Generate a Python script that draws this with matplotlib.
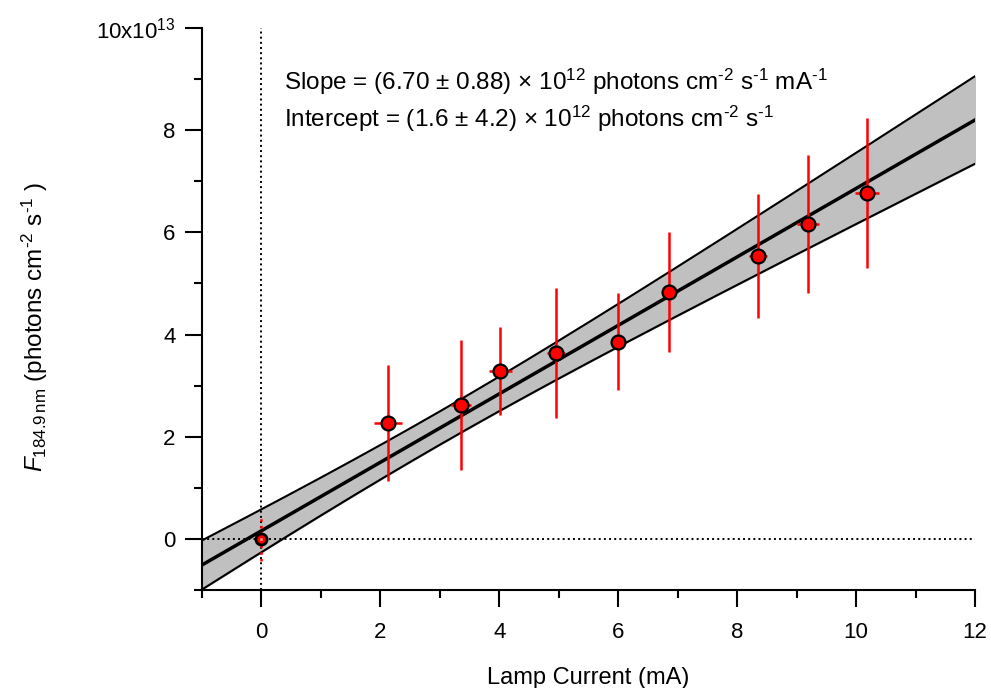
import numpy as np
import matplotlib.pyplot as plt
from matplotlib.ticker import MultipleLocator, FuncFormatter

plt.rcParams['font.family'] = 'Liberation Sans'
plt.rcParams['mathtext.fontset'] = 'custom'
plt.rcParams['mathtext.rm'] = 'Liberation Sans'
plt.rcParams['mathtext.it'] = 'Liberation Sans:italic'

# lamp current (mA) and flux (x 10^13 photons cm-2 s-1)
current = [2.13, 3.35, 4.02, 4.96, 6.00, 6.86, 8.35, 9.19, 10.18]
current_err = [0.24, 0.17, 0.20, 0.15, 0.10, 0.08, 0.15, 0.19, 0.20]
flux = [2.27, 2.62, 3.29, 3.64, 3.86, 4.83, 5.54, 6.16, 6.77]
flux_err = [1.14, 1.28, 0.86, 1.27, 0.95, 1.17, 1.21, 1.35, 1.46]

# dark point
zero_x = [0.0]
zero_y = [0.0]
zero_xerr = [0.05]
zero_err = [0.43]

# fit (x 10^13 units)
slope, slope_se = 0.670, 0.088
intercept, intercept_se = 0.16, 0.42
cov_ab = -3.0 * slope_se ** 2

fig = plt.figure(figsize=(9.91, 6.88), dpi=100)
ax = fig.add_axes([0.2038, 0.1424, 0.7801, 0.8169])

xs = np.linspace(-1, 12, 200)
fit = intercept + slope * xs
half = np.sqrt(intercept_se ** 2 + 2 * cov_ab * xs + slope_se ** 2 * xs ** 2)
ax.fill_between(xs, fit - half, fit + half, color='#c0c0c0', zorder=1)
ax.plot(xs, fit + half, color='black', lw=1.5, zorder=2)
ax.plot(xs, fit - half, color='black', lw=1.5, zorder=2)
ax.plot(xs, fit, color='black', lw=2.5, zorder=3)

ax.axvline(0, color='black', ls=':', lw=1.4, zorder=2)
ax.axhline(0, color='black', ls=':', lw=1.4, zorder=2)

ax.errorbar(current, flux, yerr=flux_err, xerr=current_err, fmt='o', color='red',
            ecolor='red', elinewidth=1.8, capsize=0, ms=10, mfc='red', mec='black',
            mew=1.6, zorder=4)
eb = ax.errorbar(zero_x, zero_y, yerr=zero_err, xerr=zero_xerr, fmt='o', color='red',
                 ecolor='red', elinewidth=1.8, capsize=0, ms=8, mfc='red', mec='black',
                 mew=2.0, zorder=4)
for c in eb.lines[2]:
    c.set_linestyle(':')
ax.plot(zero_x, zero_y, 's', ms=3.5, mfc='#ff9090', mec='red', mew=1.0, zorder=5)

ax.set_xlim(-1, 12)
ax.set_ylim(-1, 10)
for s in ['top', 'right']:
    ax.spines[s].set_visible(False)
for s in ['left', 'bottom']:
    ax.spines[s].set_linewidth(1.5)

ax.xaxis.set_major_locator(MultipleLocator(2))
ax.xaxis.set_minor_locator(MultipleLocator(1))
ax.yaxis.set_minor_locator(MultipleLocator(1))
ax.set_yticks([0, 2, 4, 6, 8, 10])
ax.yaxis.set_major_formatter(FuncFormatter(
    lambda v, p: '10x10$^{13}$' if v == 10 else '%d' % v))
ax.tick_params(which='major', length=12, width=1.5, labelsize=16)
ax.tick_params(axis='x', which='major', pad=11)
ax.tick_params(axis='y', which='major', pad=7)
ax.tick_params(which='minor', length=6, width=1.5)

ax.set_xlabel('Lamp Current (mA)', fontsize=17)
ax.xaxis.set_label_coords(0.5, -0.137)
ax.set_ylabel('$F_{\\mathrm{184.9\\,nm}}$ (photons cm$^{\\text{-2}}$ s$^{\\text{-1}}$ )',
              fontsize=17.5)
ax.yaxis.set_label_coords(-0.197, 0.468)

ax.text(0.38, 8.95,
        'Slope = (6.70 \u00b1 0.88) \u00d7 10$^{12}$ photons cm$^{\\text{-2}}$ s$^{\\text{-1}}$ mA$^{\\text{-1}}$',
        fontsize=17.5, va='center')
ax.text(0.38, 8.22,
        'Intercept = (1.6 \u00b1 4.2) \u00d7 10$^{12}$ photons cm$^{\\text{-2}}$ s$^{\\text{-1}}$',
        fontsize=17.5, va='center')

fig.savefig('out.png', dpi=100)
